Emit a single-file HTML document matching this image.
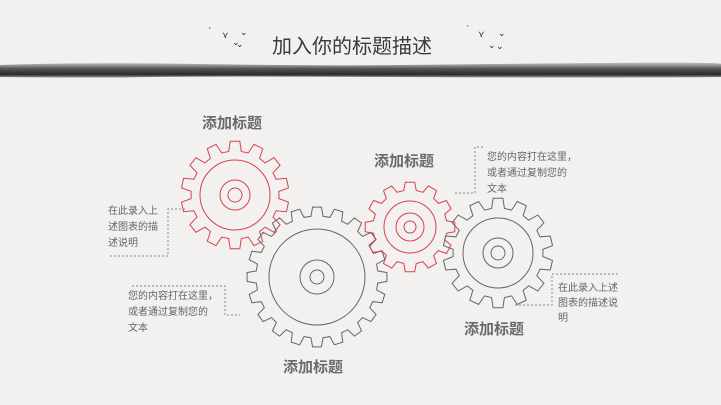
<!DOCTYPE html>
<html><head><meta charset="utf-8"><style>
html,body{margin:0;padding:0}
body{width:721px;height:405px;background:#f2f1ef;position:relative;overflow:hidden;font-family:"Liberation Sans","Noto Sans CJK SC",sans-serif}
.t{position:absolute;white-space:nowrap}
.lab{font-size:15px;font-weight:bold;color:#6a6a6a}
.d{font-size:10px;color:#666;line-height:16px}
</style></head><body>
<svg width="721" height="405" style="position:absolute;left:0;top:0">
<defs>
<linearGradient id="ink" x1="0" y1="0" x2="0" y2="1">
<stop offset="0" stop-color="#999" stop-opacity="0.6"/>
<stop offset="0.4" stop-color="#555"/>
<stop offset="0.8" stop-color="#2a2a2a"/>
<stop offset="1" stop-color="#666" stop-opacity="0.7"/>
</linearGradient>
</defs>
<path d="M0 65 Q80 62 200 64 T400 65 T600 63 T721 64 L721 77 Q600 78 400 77 T150 77 T0 77 Z" fill="url(#ink)"/>
<g fill="none" stroke-width="1" id="gears"></g>
<g fill="none" stroke="#888" stroke-width="1" stroke-dasharray="2,2">
<path d="M110 256 H168 V209 H185"/>
<path d="M132 286 H225 V315 H240"/>
<path d="M455 193 H475 V147 H485"/>
<path d="M515 305 H552 V274 H618"/>
</g>
<g fill="#222" font-size="9" font-family="DejaVu Sans">
<text x="208" y="34">˺</text><text x="222" y="38">⋎</text><text x="232" y="45">⌄</text><text x="240" y="35">⌄</text><text x="236" y="47">⌄</text>
<text x="466" y="32">˺</text><text x="478" y="37">⋎</text><text x="488" y="48">⌄</text><text x="498" y="36">⌄</text><text x="496" y="49">⌄</text>
</g>
</svg>
<div class="t" style="left:272px;top:30px;font-size:20px;color:#3a3a3a">加入你的标题描述</div>
<div class="t lab" style="left:202px;top:112px">添加标题</div>
<div class="t lab" style="left:374px;top:150px">添加标题</div>
<div class="t lab" style="left:283px;top:356px">添加标题</div>
<div class="t lab" style="left:464px;top:318px">添加标题</div>
<div class="t d" style="left:108px;top:204px">在此录入上<br>述图表的描<br>述说明</div>
<div class="t d" style="left:128px;top:289px">您的内容打在这里，<br>或者通过复制您的<br>文本</div>
<div class="t d" style="left:487px;top:150px">您的内容打在这里，<br>或者通过复制您的<br>文本</div>
<div class="t d" style="left:558px;top:281px;line-height:15px">在此录入上述<br>图表的描述说<br>明</div>
<script>
function gear(cx,cy,R,r,n,rot){
  var p=[],step=2*Math.PI/n;
  for(var i=0;i<n;i++){
    var a=rot+i*step;
    var pts=[[r,a-step*0.32],[R,a-step*0.2],[R,a+step*0.2],[r,a+step*0.32],[r,a+step*0.68]];
    pts.forEach(function(q,j){p.push((p.length?'L':'M')+(cx+q[0]*Math.cos(q[1])).toFixed(1)+' '+(cy+q[0]*Math.sin(q[1])).toFixed(1));});
  }
  return p.join(' ')+'Z';
}
var g=document.getElementById('gears'),s='';
function add(cx,cy,R,r,n,rot,ci,c){
  s+='<path d="'+gear(cx,cy,R,r,n,rot)+'" stroke="'+c+'"/>';
  ci.forEach(function(k){s+='<circle cx="'+cx+'" cy="'+cy+'" r="'+k+'" stroke="'+c+'"/>';});
}
add(235,195,54,44,14,-Math.PI/2,[35,15,7],'#d9404a');
add(317,277,70,61,20,-Math.PI/2,[48,17,7],'#666');
add(410,227,45,37,12,-Math.PI/2,[26,14,6],'#d9404a');
add(498,253,55,45,14,-Math.PI/2,[35,15,7],'#666');
g.innerHTML=s;
</script>
</body></html>
